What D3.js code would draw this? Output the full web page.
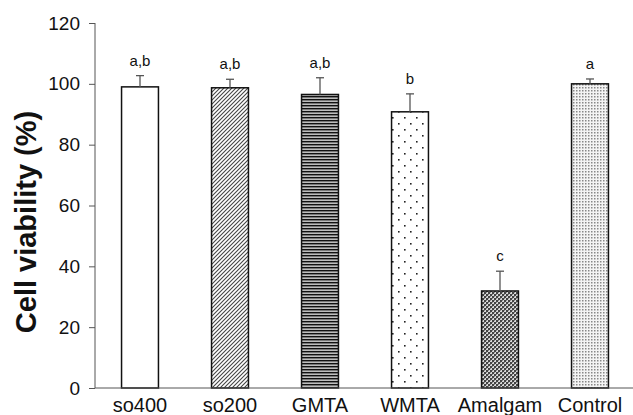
<!DOCTYPE html>
<html>
<head>
<meta charset="utf-8">
<script src="https://cdn.jsdelivr.net/npm/d3@7"></script>
<style>
  body { margin: 0; background: #fff; }
  svg { display: block; font-family: Arial, "Liberation Sans", Helvetica, sans-serif; }
</style>
</head>
<body>
<svg id="chart" width="633" height="415"></svg>
<script>
// ---- data ----
const categories = ["so400", "so200", "GMTA", "WMTA", "Amalgam", "Control"];
const viability  = [99.0, 98.7, 96.5, 90.8, 31.9, 100.0];
const errors     = [3.7, 2.8, 5.5, 5.9, 6.5, 1.6];
const letters    = ["a,b", "a,b", "a,b", "b", "c", "a"];
const yTicks     = [0, 20, 40, 60, 80, 100, 120];
const patterns   = ["none", "hatch", "hlines", "sparsedots", "checker", "finedots"];

const svg = d3.select("#chart");
const margin = { left: 95, top: 23, bottom: 388, right: 635 };

const x = d3.scaleBand().domain(categories).range([margin.left, margin.right])
  .paddingInner(0.59).paddingOuter(0.295);
const y = d3.scaleLinear().domain([0, 120]).range([margin.bottom, margin.top]);

// ---- patterns ----
const defs = svg.append("defs");
let p = defs.append("pattern").attr("id", "hatch").attr("patternUnits", "userSpaceOnUse")
  .attr("width", 4).attr("height", 4);
p.append("rect").attr("width", 4).attr("height", 4).attr("fill", "#fff");
p.append("path").attr("d", "M-1,1 l2,-2 M0,4 l4,-4 M3,5 l2,-2").attr("stroke", "#444").attr("stroke-width", 1.1);
p = defs.append("pattern").attr("id", "hlines").attr("patternUnits", "userSpaceOnUse")
  .attr("width", 4).attr("height", 3);
p.append("rect").attr("width", 4).attr("height", 3).attr("fill", "#bdbdbd");
p.append("rect").attr("width", 4).attr("height", 1.4).attr("fill", "#111");
p = defs.append("pattern").attr("id", "sparsedots").attr("patternUnits", "userSpaceOnUse")
  .attr("width", 12).attr("height", 12);
p.append("rect").attr("width", 12).attr("height", 12).attr("fill", "#fff");
p.append("rect").attr("x", 2).attr("y", 3).attr("width", 1.6).attr("height", 1.6).attr("fill", "#222");
p.append("rect").attr("x", 8).attr("y", 9).attr("width", 1.6).attr("height", 1.6).attr("fill", "#222");
p = defs.append("pattern").attr("id", "checker").attr("patternUnits", "userSpaceOnUse")
  .attr("width", 4).attr("height", 4);
p.append("rect").attr("width", 4).attr("height", 4).attr("fill", "#d8d8d8");
p.append("rect").attr("x", 0).attr("y", 0).attr("width", 2).attr("height", 2).attr("fill", "#444");
p.append("rect").attr("x", 2).attr("y", 2).attr("width", 2).attr("height", 2).attr("fill", "#444");
p.append("rect").attr("x", 2).attr("y", 0).attr("width", 1).attr("height", 1).attr("fill", "#888");
p.append("rect").attr("x", 0).attr("y", 2).attr("width", 1).attr("height", 1).attr("fill", "#888");
p = defs.append("pattern").attr("id", "finedots").attr("patternUnits", "userSpaceOnUse")
  .attr("width", 3).attr("height", 3);
p.append("rect").attr("width", 3).attr("height", 3).attr("fill", "#f4f4f4");
p.append("rect").attr("x", 0).attr("y", 0).attr("width", 1.5).attr("height", 1.5).attr("fill", "#888");

const data = categories.map((c, i) => ({ c, v: viability[i], e: errors[i], l: letters[i], p: patterns[i] }));

// ---- bars ----
svg.append("g").selectAll("rect").data(data).join("rect")
  .attr("x", d => x(d.c))
  .attr("y", d => y(d.v))
  .attr("width", x.bandwidth())
  .attr("height", d => y(0) - y(d.v))
  .attr("fill", d => d.p === "none" ? "#fff" : `url(#${d.p})`)
  .attr("stroke", "#111")
  .attr("stroke-width", 1.5);

// ---- error bars ----
const eg = svg.append("g").attr("stroke", "#555").attr("stroke-width", 1.3);
eg.selectAll("line.v").data(data).join("line").attr("class", "v")
  .attr("x1", d => x(d.c) + x.bandwidth() / 2).attr("x2", d => x(d.c) + x.bandwidth() / 2)
  .attr("y1", d => y(d.v)).attr("y2", d => y(d.v + d.e));
eg.selectAll("line.cap").data(data).join("line").attr("class", "cap")
  .attr("x1", d => x(d.c) + x.bandwidth() / 2 - 4).attr("x2", d => x(d.c) + x.bandwidth() / 2 + 4)
  .attr("y1", d => y(d.v + d.e)).attr("y2", d => y(d.v + d.e));

// ---- letters ----
svg.append("g").selectAll("text").data(data).join("text")
  .attr("x", d => x(d.c) + x.bandwidth() / 2)
  .attr("y", d => y(d.v + d.e) - 10)
  .attr("text-anchor", "middle")
  .attr("font-size", 15)
  .attr("fill", "#111")
  .text(d => d.l);

// ---- axes ----
const yAxis = svg.append("g").attr("transform", `translate(${margin.left},0)`)
  .call(d3.axisLeft(y).tickValues(yTicks).tickSize(6).tickPadding(9));
yAxis.select(".domain").attr("d", `M0,${y(120)}V${y(0)}`).attr("stroke", "#555");
yAxis.selectAll(".tick line").attr("stroke", "#555");
yAxis.selectAll(".tick text").attr("font-size", 19).attr("fill", "#111").attr("font-family", "Arial, 'Liberation Sans', sans-serif");

const xAxis = svg.append("g").attr("transform", `translate(0,${margin.bottom})`)
  .call(d3.axisBottom(x).tickSize(0).tickPadding(10));
xAxis.select(".domain").attr("d", `M${margin.left},0H633`).attr("stroke", "#555");
xAxis.selectAll(".tick text").attr("font-size", 20).attr("fill", "#111").attr("font-family", "Arial, 'Liberation Sans', sans-serif");

// ---- axis title ----
svg.append("text")
  .attr("transform", `translate(36,222) rotate(-90)`)
  .attr("text-anchor", "middle")
  .attr("font-size", 29)
  .attr("font-weight", "bold")
  .attr("fill", "#111")
  .text("Cell viability (%)");
</script>
</body>
</html>
